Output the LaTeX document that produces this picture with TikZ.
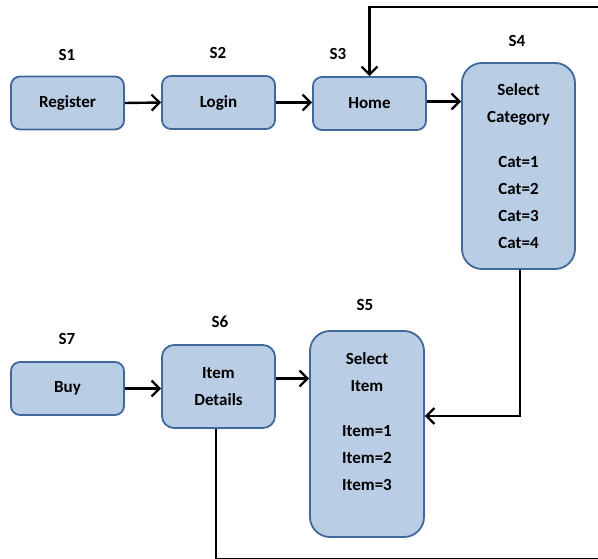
\documentclass[tikz,border=0pt]{standalone}
\usepackage{fontspec}
\setmainfont{Carlito}
\usetikzlibrary{arrows.meta}
\definecolor{boxfill}{HTML}{B9CDE5}
\definecolor{boxline}{HTML}{41689A}
\begin{document}
\begin{tikzpicture}[x=1pt,y=-1pt,
  box/.style={draw=boxline, line width=1.8pt, fill=boxfill, rounded corners=9pt,
    minimum width=113pt, minimum height=53pt, align=center,
    font=\fontsize{17}{27}\selectfont\bfseries, inner sep=0pt},
  tall/.style={box, rounded corners=20pt, minimum height=206pt},
  slabel/.style={font=\fontsize{17}{18}\selectfont\bfseries},
  conn/.style={line width=2.4pt, -{Straight Barb[length=8pt,width=16pt,line width=2.2pt]}}]
\useasboundingbox (0,0) rectangle (598,559);
\clip (0,0) rectangle (598,559);

\node[box] (reg) at (67.5,103) {Register};
\node[box] (login) at (218.5,102.5) {Login};
\node[box] (home) at (369.5,103.5) {Home};
\node[tall] (cat) at (518.5,166) {Select\\Category\\[18pt]Cat=1\\Cat=2\\Cat=3\\Cat=4};
\node[box] (buy) at (67.5,388.5) {Buy};
\node[box, minimum height=83pt, rounded corners=12pt] (det) at (218.5,386.5) {Item\\Details};
\node[tall, minimum width=114pt] (item) at (367,434) {Select\\Item\\[18pt]Item=1\\Item=2\\Item=3\\[-3pt]\mbox{}};

\node[slabel] (s1) at (67,55) {S1};
\node[slabel] (s2) at (218,53) {S2};
\node[slabel] (s3) at (338,54) {S3};
\node[slabel] (s4) at (517,41) {S4};
\node[slabel] (s5) at (365,305) {S5};
\node[slabel] (s6) at (220,322) {S6};
\node[slabel] (s7) at (67,339) {S7};

\draw[conn] (reg.east) -- (login.west);
\draw[conn] (login.east) -- (login.east -| home.west);
\draw[conn] ([yshift=2pt]home.east) -- ([yshift=2pt]home.east -| cat.west);
\draw[conn] ([xshift=1.5pt]cat.south) |- ([yshift=18pt]item.east);
\draw[conn] ([yshift=8pt]det.east) -- ([yshift=8pt]det.east -| item.west);
\draw[conn] (buy.east) -- (buy.east -| det.west);
\draw[conn] ([xshift=-2.5pt]det.south) -- ([xshift=-2.5pt]det.south |- 0,559)
  -- (620,559) -- (620,7) -| (home.north);
\end{tikzpicture}
\end{document}
